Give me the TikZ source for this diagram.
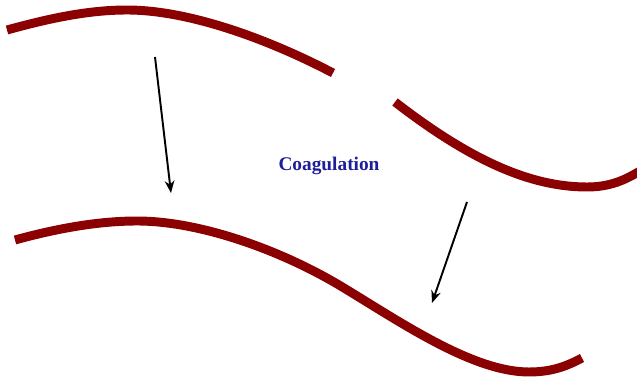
\documentclass[tikz,border=0pt]{standalone}
\usepackage{fontspec}
\newfontfamily\labelfont{Liberation Serif}
\usepackage{xcolor}
\usepackage{tikz}
\usetikzlibrary{arrows.meta}
\definecolor{fibercol}{RGB}{139,0,0}
\definecolor{labelblue}{RGB}{30,30,155}

\begin{document}
\begin{tikzpicture}[x=0.02cm,y=-0.02cm,
  fiber/.style={line width=5.1pt,color=fibercol},
  arr/.style={line width=1.1pt,-{Stealth[length=7pt,width=5.5pt]}}]
\useasboundingbox (0,0) rectangle (637,378);
% upper fibre, broken in two
\draw[fiber] (7,30) .. controls (47,19) and (87,10) .. (127,10) .. controls (190,10) and (270,40) .. (333,73);
\draw[fiber] (395,102) .. controls (470,160) and (530,187) .. (587,187) .. controls (610,187) and (625,180) .. (640,171);
% lower fibre, joined
\draw[fiber] (15,240) .. controls (55,229) and (97,221) .. (137,221) .. controls (200,221) and (280,250) .. (339,285)
  .. controls (399,321) and (472,372) .. (529,372) .. controls (552,372) and (567,366) .. (582,358);
\node[font=\labelfont\bfseries\fontsize{11}{13}\selectfont,text=labelblue] (coag) at (329,166) {Coagulation};
\coordinate (a1s) at (155,57); \coordinate (a1e) at (171,193);
\coordinate (a2s) at (467,202); \coordinate (a2e) at (432,303);
\draw[arr] (a1s) -- (a1e);
\draw[arr] (a2s) -- (a2e);
\end{tikzpicture}
\end{document}
